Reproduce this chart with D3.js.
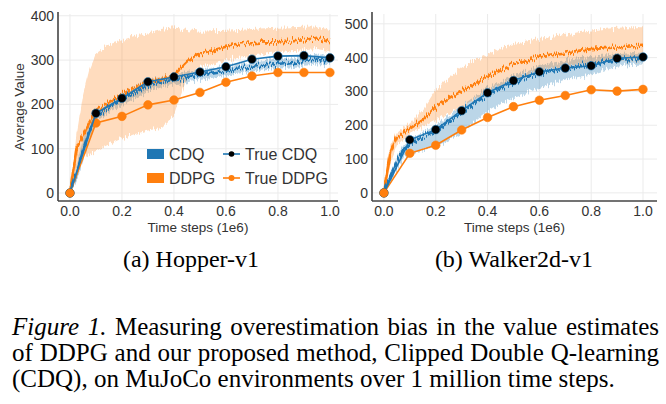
<!DOCTYPE html>
<html lang="en">

<head>
  <meta charset="UTF-8">
  <title>Figure 1</title>
  <script src="https://d3js.org/d3.v7.min.js"></script>
  <style>
    body {
      margin: 0;
      background: #fff;
      width: 666px;
      height: 404px;
      overflow: hidden;
      position: relative;
    }

    #chart {
      position: absolute;
      left: 0;
      top: 0;
    }

    .caption {
      position: absolute;
      left: 12px;
      width: 647px;
      font-family: "Liberation Serif", "Times New Roman", serif;
      font-size: 25px;
      line-height: 26px;
      color: #000;
      white-space: nowrap;
    }

    .caption.just {
      text-align: justify;
      text-align-last: justify;
      white-space: normal;
    }
  </style>
</head>

<body>
  <svg id="chart" width="666" height="404"></svg>
  <div class="caption just" style="top:314px"><i>Figure 1.</i> Measuring overestimation bias in the value estimates</div>
  <div class="caption just" style="top:340px">of DDPG and our proposed method, Clipped Double Q-learning</div>
  <div class="caption" style="top:366px">(CDQ), on MuJoCo environments over 1 million time steps.</div>

  <script>
    // time steps (1e6) for the learned value curves
    const steps = [0, 0.025, 0.05, 0.075, 0.1, 0.15, 0.2, 0.25, 0.3, 0.35, 0.4, 0.45, 0.5,
      0.55, 0.6, 0.65, 0.7, 0.75, 0.8, 0.85, 0.9, 0.95, 1.0];
    // time steps for the "true value" evaluations
    const evalSteps = [0, 0.1, 0.2, 0.3, 0.4, 0.5, 0.6, 0.7, 0.8, 0.9, 1.0];

    // Hopper-v1
    const hopperCdq = [0, 45, 95, 140, 172, 195, 212, 228, 242, 250, 256, 262, 267, 272, 276, 281, 285, 288, 291, 295, 298, 301, 303];
    const hopperCdqLo = [0, 25, 70, 120, 160, 183, 198, 214, 228, 238, 245, 250, 255, 260, 265, 270, 274, 277, 280, 284, 287, 290, 292];
    const hopperCdqHi = [0, 65, 120, 160, 185, 207, 225, 242, 256, 262, 267, 273, 278, 283, 287, 292, 296, 300, 303, 306, 309, 312, 314];
    const hopperDdpg = [0, 100, 130, 160, 185, 205, 222, 238, 250, 256, 266, 295, 315, 322, 330, 335, 338, 340, 340, 342, 345, 350, 340];
    const hopperDdpgLo = [0, 60, 80, 88, 95, 110, 123, 133, 141, 147, 175, 260, 285, 292, 300, 305, 310, 315, 318, 320, 322, 325, 320];
    const hopperDdpgHi = [0, 130, 220, 280, 315, 335, 345, 355, 362, 370, 374, 368, 364, 365, 366, 368, 370, 372, 373, 374, 375, 376, 368];
    const hopperTrueCdq = [0, 180, 214, 251, 262, 273, 285, 302, 309, 310, 305];
    const hopperTrueDdpg = [0, 158, 173, 199, 210, 227, 250, 264, 272, 272, 272];

    // Walker2d-v1
    const walkerCdq = [0, 50, 95, 125, 145, 165, 185, 210, 238, 265, 290, 310, 328, 342, 353, 362, 368, 374, 380, 386, 392, 396, 400];
    const walkerCdqLo = [0, 35, 70, 100, 115, 125, 138, 155, 178, 210, 240, 262, 280, 295, 310, 322, 335, 343, 350, 362, 373, 378, 380];
    const walkerCdqHi = [0, 60, 110, 140, 160, 178, 200, 228, 258, 285, 310, 330, 348, 362, 375, 385, 393, 398, 402, 406, 410, 413, 415];
    const walkerDdpg = [0, 120, 165, 180, 190, 215, 255, 280, 300, 322, 345, 362, 380, 393, 403, 410, 415, 420, 425, 428, 430, 433, 435];
    const walkerDdpgLo = [0, 90, 140, 160, 175, 195, 215, 235, 255, 278, 300, 318, 335, 350, 362, 370, 376, 380, 383, 385, 388, 390, 392];
    const walkerDdpgHi = [0, 140, 180, 195, 205, 245, 305, 340, 370, 392, 410, 428, 440, 448, 455, 462, 468, 475, 480, 485, 488, 490, 490];
    const walkerTrueCdq = [0, 157, 187, 243, 296, 332, 358, 369, 376, 398, 402];
    const walkerTrueDdpg = [0, 117, 141, 186, 223, 255, 274, 288, 305, 301, 306];

    const xTicks = [0, 0.2, 0.4, 0.6, 0.8, 1.0];
    const hopperYTicks = [0, 100, 200, 300, 400];
    const walkerYTicks = [0, 100, 200, 300, 400, 500];

    const legendBands = ['CDQ', 'DDPG'];
    const legendTrue = ['True CDQ', 'True DDPG'];

    const blue = '#1f77b4';
    const orange = '#ff7f0e';
    const sans = '"Liberation Sans", Arial, sans-serif';

    const svg = d3.select('#chart');

    // vertical-only jitter to give the noisy training curves their look
    const defs = svg.append('defs');
    const filter = defs.append('filter')
      .attr('id', 'jitter')
      .attr('filterUnits', 'userSpaceOnUse')
      .attr('x', 0).attr('y', 0).attr('width', 666).attr('height', 230)
      .attr('color-interpolation-filters', 'sRGB');
    filter.append('feTurbulence')
      .attr('type', 'fractalNoise')
      .attr('baseFrequency', '1.1 0.04')
      .attr('numOctaves', 2)
      .attr('seed', 4)
      .attr('result', 'noise');
    filter.append('feColorMatrix')
      .attr('in', 'noise')
      .attr('type', 'matrix')
      .attr('values', '0 0 0 0 0.5  0 1 0 0 0  0 0 0 0 0  0 0 0 0 1')
      .attr('result', 'map');
    filter.append('feDisplacementMap')
      .attr('in', 'SourceGraphic')
      .attr('in2', 'map')
      .attr('scale', 11)
      .attr('xChannelSelector', 'R')
      .attr('yChannelSelector', 'G');

    function drawPanel(p) {
      const x = d3.scaleLinear().domain(p.xDomain).range([p.left, p.right]);
      const y = d3.scaleLinear().domain(p.yDomain).range([p.bottom, p.top]);
      const g = svg.append('g');

      // grid
      g.selectAll('line.vgrid')
        .data(xTicks)
        .enter()
        .append('line')
        .attr('x1', d => x(d)).attr('x2', d => x(d))
        .attr('y1', p.top).attr('y2', p.bottom)
        .attr('stroke', '#ebebeb').attr('stroke-width', 1);
      g.selectAll('line.hgrid')
        .data(p.yTicks)
        .enter()
        .append('line')
        .attr('x1', p.left).attr('x2', p.right)
        .attr('y1', d => y(d)).attr('y2', d => y(d))
        .attr('stroke', '#ebebeb').attr('stroke-width', 1);

      const band = (lo, hi) => d3.area()
        .x((d, i) => x(steps[i]))
        .y0((d, i) => y(lo[i]))
        .y1((d, i) => y(hi[i]))(lo);
      const line = d3.line().x(d => x(d[0])).y(d => y(d[1]));

      const noisy = g.append('g').attr('filter', 'url(#jitter)');
      noisy.append('path').attr('d', band(p.cdqLo, p.cdqHi))
        .attr('fill', blue).attr('fill-opacity', 0.3);
      noisy.append('path').attr('d', band(p.ddpgLo, p.ddpgHi))
        .attr('fill', orange).attr('fill-opacity', 0.27);
      noisy.append('path').attr('d', line(steps.map((s, i) => [s, p.ddpg[i]])))
        .attr('fill', 'none').attr('stroke', orange).attr('stroke-width', 2.6);
      noisy.append('path').attr('d', line(steps.map((s, i) => [s, p.cdq[i]])))
        .attr('fill', 'none').attr('stroke', blue).attr('stroke-width', 2.6);

      // true values
      const trueSeries = [
        { vals: p.trueDdpg, color: orange, dot: orange },
        { vals: p.trueCdq, color: blue, dot: '#000' }
      ];
      trueSeries.forEach(s => {
        const pts = evalSteps.map((t, i) => [t, s.vals[i]]);
        g.append('path').attr('d', line(pts))
          .attr('fill', 'none').attr('stroke', s.color).attr('stroke-width', 1.6);
        g.selectAll(null)
          .data(pts)
          .enter()
          .append('circle')
          .attr('cx', d => x(d[0])).attr('cy', d => y(d[1]))
          .attr('r', 4.3)
          .attr('fill', s.dot)
          .attr('stroke', s.color).attr('stroke-width', 0.6);
      });
      // orange dot sits on top at the origin
      g.append('circle').attr('cx', x(0)).attr('cy', y(0)).attr('r', 4.3).attr('fill', orange);

      // spines
      g.append('line').attr('x1', p.left).attr('x2', p.left).attr('y1', p.top - 2).attr('y2', p.bottom)
        .attr('stroke', '#444').attr('stroke-width', 1.6);
      g.append('line').attr('x1', p.left).attr('x2', p.right).attr('y1', p.bottom).attr('y2', p.bottom)
        .attr('stroke', '#444').attr('stroke-width', 1.6);

      // tick labels
      g.selectAll('text.xt')
        .data(xTicks)
        .enter()
        .append('text')
        .attr('x', d => x(d)).attr('y', p.bottom + 15)
        .attr('text-anchor', 'middle')
        .style('font-family', sans).style('font-size', '14px').style('fill', '#333')
        .text(d => d.toFixed(1));
      g.selectAll('text.yt')
        .data(p.yTicks)
        .enter()
        .append('text')
        .attr('x', p.left - 4).attr('y', d => y(d)).attr('dy', '0.36em')
        .attr('text-anchor', 'end')
        .style('font-family', sans).style('font-size', '14px').style('fill', '#333')
        .text(d => d);

      // axis label
      g.append('text')
        .attr('x', (p.left + p.right) / 2).attr('y', p.bottom + 31)
        .attr('text-anchor', 'middle')
        .style('font-family', sans).style('font-size', '13.5px').style('fill', '#333')
        .text('Time steps (1e6)');

      // sub-caption
      g.append('text')
        .attr('x', p.subX).attr('y', 267)
        .attr('text-anchor', 'middle')
        .style('font-family', '"Liberation Serif", "Times New Roman", serif')
        .style('font-size', '24px').style('fill', '#000')
        .text(p.sub);

      return { x, y, g };
    }

    drawPanel({
      left: 58, right: 338, top: 14, bottom: 201,
      xDomain: [-0.046, 1.031], yDomain: [-18, 404],
      yTicks: hopperYTicks,
      cdq: hopperCdq, cdqLo: hopperCdqLo, cdqHi: hopperCdqHi,
      ddpg: hopperDdpg, ddpgLo: hopperDdpgLo, ddpgHi: hopperDdpgHi,
      trueCdq: hopperTrueCdq, trueDdpg: hopperTrueDdpg,
      sub: '(a) Hopper-v1', subX: 191
    });

    drawPanel({
      left: 372, right: 657, top: 14, bottom: 201,
      xDomain: [-0.046, 1.054], yDomain: [-24, 529],
      yTicks: walkerYTicks,
      cdq: walkerCdq, cdqLo: walkerCdqLo, cdqHi: walkerCdqHi,
      ddpg: walkerDdpg, ddpgLo: walkerDdpgLo, ddpgHi: walkerDdpgHi,
      trueCdq: walkerTrueCdq, trueDdpg: walkerTrueDdpg,
      sub: '(b) Walker2d-v1', subX: 514
    });

    // y label for the left panel
    svg.append('text')
      .attr('transform', 'translate(24,107) rotate(-90)')
      .attr('text-anchor', 'middle')
      .style('font-family', sans).style('font-size', '13.5px').style('fill', '#333')
      .text('Average Value');

    // legend (Hopper panel only)
    const legend = svg.append('g').attr('transform', 'translate(147,154)');
    legendBands.forEach((name, i) => {
      const row = legend.append('g').attr('transform', `translate(0,${i * 24})`);
      row.append('rect').attr('x', 0).attr('y', -5).attr('width', 17).attr('height', 10)
        .attr('fill', i === 0 ? blue : orange);
      row.append('text').attr('x', 22).attr('y', 0).attr('dy', '0.36em')
        .style('font-family', sans).style('font-size', '16px').style('fill', '#333')
        .text(name);
    });
    legendTrue.forEach((name, i) => {
      const row = legend.append('g').attr('transform', `translate(76,${i * 24})`);
      const c = i === 0 ? blue : orange;
      row.append('line').attr('x1', 0).attr('x2', 17).attr('y1', 0).attr('y2', 0)
        .attr('stroke', c).attr('stroke-width', 1.6);
      row.append('circle').attr('cx', 8.5).attr('cy', 0).attr('r', i === 0 ? 2.8 : 3)
        .attr('fill', i === 0 ? '#000' : orange);
      row.append('text').attr('x', 22).attr('y', 0).attr('dy', '0.36em')
        .style('font-family', sans).style('font-size', '16px').style('fill', '#333')
        .text(name);
    });
  </script>
</body>

</html>
